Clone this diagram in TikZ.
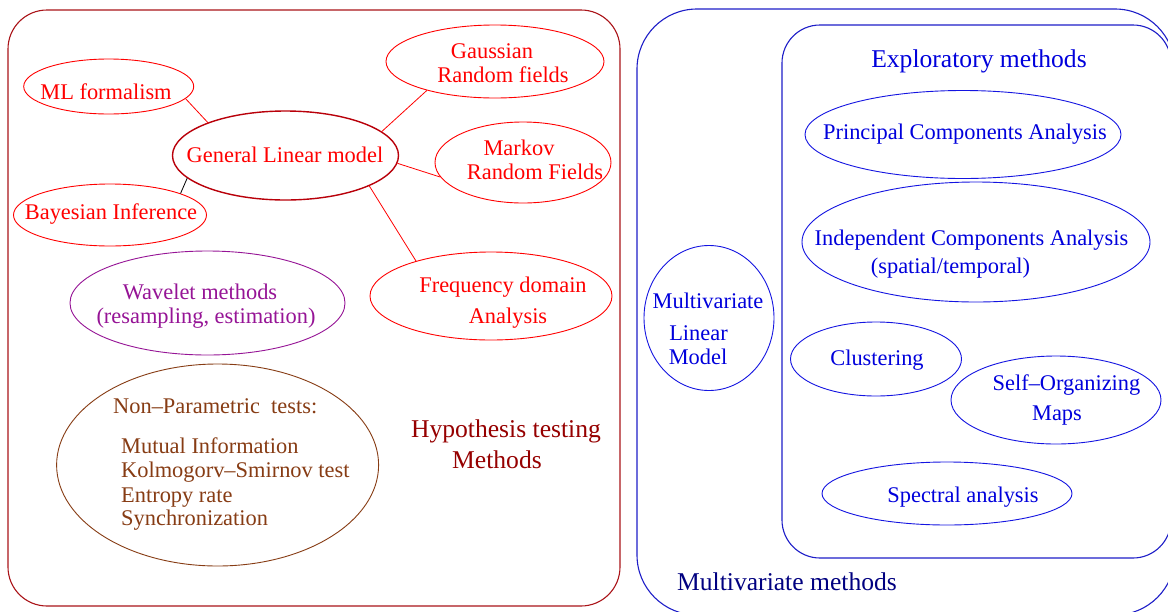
\documentclass[tikz,border=0pt]{standalone}
\usepackage{fontspec}
\setmainfont{Liberation Serif}
\usetikzlibrary{shapes.geometric}
\definecolor{boxred}{RGB}{170,20,25}
\definecolor{glmred}{RGB}{185,0,10}
\definecolor{hypred}{RGB}{150,0,0}
\definecolor{wavpurple}{RGB}{150,20,150}
\definecolor{npbrown}{RGB}{135,60,20}
\definecolor{boxblue}{RGB}{30,30,200}
\definecolor{ellblue}{RGB}{20,20,225}
\definecolor{txtblue}{RGB}{0,0,220}
\definecolor{navy}{RGB}{0,0,128}
\begin{document}
\begin{tikzpicture}[x=1pt,y=-1pt,
  ell/.style={draw, ellipse, inner sep=0pt, line width=0.9pt},
  tx/.style={anchor=base, inner sep=0pt, font=\fontsize{22.4}{24}\selectfont},
  txl/.style={tx, anchor=base west},
  hd/.style={anchor=base, inner sep=0pt, font=\fontsize{25.6}{28}\selectfont},
  link/.style={line width=0.8pt},
  frame/.style={line width=1.1pt}]
\clip (0,0) rectangle (1168,611);
\fill[white] (0,0) rectangle (1168,611);

% ---------- left panel ----------
\draw[frame, boxred, rounded corners=39pt] (8,10) rectangle (620,606);

\node[ell, red, minimum width=170pt, minimum height=55pt] (ml) at (108.7,86.5) {};
\node[ell, red, minimum width=218pt, minimum height=73pt] (gauss) at (495,61.5) {};
\node[ell, glmred, line width=1.4pt, minimum width=226pt, minimum height=89pt] (glm) at (285.5,155.5) {};
\node[ell, red, minimum width=176pt, minimum height=81pt] (markov) at (523,162.5) {};
\node[ell, red, minimum width=193pt, minimum height=62pt] (bayes) at (110,215) {};
\node[ell, red, minimum width=242pt, minimum height=88pt] (freq) at (491,296) {};
\node[ell, wavpurple, minimum width=275pt, minimum height=104pt] (wave) at (207.5,303) {};
\node[ell, npbrown, minimum width=322pt, minimum height=202pt] (nonpar) at (217.6,465) {};

\draw[link, red] (ml.-9.3) -- (glm.157);
\draw[link, red] (gauss.-157.3) -- (glm.14);
\draw[link, red] (markov.190.6) -- (glm.-4.3);
\draw[link, red] (freq.155.8) -- (glm.-20);
\draw[link, black] (bayes.17.4) -- (glm.193.2);

\node[tx, red] (mlT) at (106,99) {ML formalism};
\node[tx, red] (gaussT1) at (492,58) {Gaussian};
\node[tx, red] (gaussT2) at (503,82) {Random fields};
\node[tx, red] (glmT) at (285,162) {General Linear model};
\node[tx, red] (markovT1) at (519,155) {Markov};
\node[tx, red] (markovT2) at (535,179) {Random Fields};
\node[tx, red] (bayesT) at (111,219) {Bayesian Inference};
\node[tx, red] (freqT1) at (503,292) {Frequency domain};
\node[tx, red] (freqT2) at (508,323) {Analysis};
\node[tx, wavpurple] (waveT1) at (200,299) {Wavelet methods};
\node[tx, wavpurple] (waveT2) at (206,323) {(resampling, estimation)};
\node[txl, npbrown] (npT0) at (113,413) {Non–Parametric\ \ tests:};
\node[txl, npbrown] (npT1) at (121,453) {Mutual Information};
\node[txl, npbrown] (npT2) at (121,477) {Kolmogorv–Smirnov test};
\node[txl, npbrown] (npT3) at (121,502) {Entropy rate};
\node[txl, npbrown] (npT4) at (121,525) {Synchronization};
\node[hd, hypred] (hypT1) at (506,437) {Hypothesis testing};
\node[hd, hypred] (hypT2) at (497,468) {Methods};

% ---------- right panel ----------
\draw[frame, boxblue, rounded corners=60pt] (637,9) rectangle (1175,615);
\draw[frame, boxblue, rounded corners=38pt] (782,25) rectangle (1171,558);

\node[hd, txtblue] (explT) at (979,67) {Exploratory methods};

\node[ell, ellblue, minimum width=316pt, minimum height=88pt] (pca) at (963,134.5) {};
\node[tx, txtblue] (pcaT) at (965,139) {Principal Components Analysis};

\node[ell, ellblue, minimum width=348pt, minimum height=120pt] (ica) at (976,242) {};
\node[tx, txtblue] (icaT1) at (971.5,245) {Independent Components Analysis};
\node[tx, txtblue] (icaT2) at (950.5,273) {(spatial/temporal)};

\node[ell, ellblue, minimum width=130pt, minimum height=145pt] (mlm) at (709,318) {};
\node[tx, txtblue] (mlmT1) at (708,308) {Multivariate};
\node[tx, txtblue] (mlmT2) at (698.5,340) {Linear};
\node[tx, txtblue] (mlmT3) at (698,364) {Model};

\node[ell, ellblue, minimum width=171pt, minimum height=74pt] (clus) at (876,359) {};
\node[tx, txtblue] (clusT) at (877,365.5) {Clustering};

\node[ell, ellblue, minimum width=210pt, minimum height=88pt] (som) at (1056,400) {};
\node[tx, txtblue] (somT1) at (1066.5,390) {Self–Organizing};
\node[tx, txtblue] (somT2) at (1057,420) {Maps};

\node[ell, ellblue, minimum width=250pt, minimum height=63pt] (spec) at (947,493.5) {};
\node[tx, txtblue] (specT) at (963,502) {Spectral analysis};

\node[hd, navy] (mvT) at (787,590) {Multivariate methods};
\end{tikzpicture}
\end{document}
